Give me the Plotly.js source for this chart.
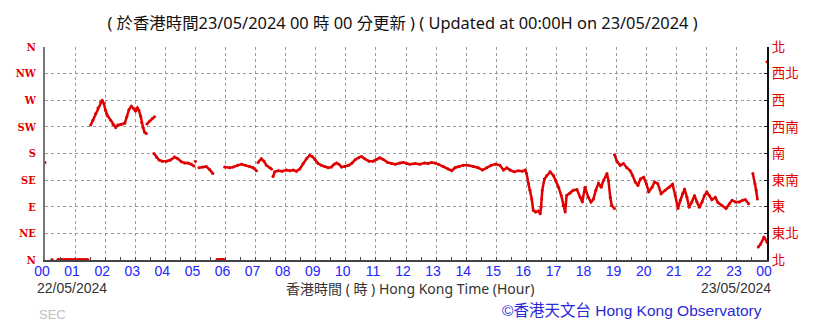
<!DOCTYPE html>
<html>
<head>
<meta charset="utf-8">
<script src="https://cdn.plot.ly/plotly-3.0.1.min.js"></script>
<style>
html,body{margin:0;padding:0;background:#fff;}
#chart{width:819px;height:323px;}
</style>
</head>
<body>
<div id="chart"></div>
<script>
// Wind direction (degrees) against Hong Kong time (hours since 00:00 22/05/2024); null = gap
const hours = [
  0.00, null,
  0.23, null,
  0.43, 0.55, 0.70, 0.85, 1.00, 1.15, 1.30, 1.42, null,
  1.52, 1.59, 1.68, 1.76, 1.85, 1.90, 1.96, 2.01, 2.09, 2.18, 2.26, 2.35, 2.42, 2.54, 2.65, 2.72, 2.79, 2.87, 2.95, 3.01, 3.07, 3.12, 3.18, 3.21, 3.26, 3.31, 3.37, null,
  3.39, 3.48, 3.57, 3.64, null,
  3.62, 3.70, 3.79, 3.90, 4.03, 4.17, 4.31, 4.42, 4.53, 4.64, 4.75, 4.86, 4.95, null,
  5.00, null,
  5.12, 5.25, 5.36, 5.47, 5.58, null,
  5.72, 5.80, 5.88, 5.94, null,
  5.97, 6.14, 6.25, 6.40, 6.53, 6.66, 6.81, 6.92, 7.03, null,
  7.08, 7.19, 7.28, 7.36, 7.47, 7.53, null,
  7.58, 7.64, 7.75, 7.88, 8.03, 8.14, 8.25, 8.36, 8.47, 8.58, 8.69, 8.80, 8.88, 8.97, 9.08, 9.19, 9.30, 9.41, 9.52, 9.61, 9.69, 9.77, 9.86, 9.97,
  10.10, 10.21, 10.32, 10.43, 10.52, 10.63, 10.77, 10.91, 11.02, 11.13, 11.24, 11.39, 11.52, 11.65, 11.80, 11.91, 12.02, 12.13, 12.30, 12.46, 12.61, 12.74, 12.85, 12.96,
  13.07, 13.24, 13.40, 13.52, 13.63, 13.76, 13.90, 14.07, 14.24, 14.40, 14.54, 14.68, 14.83, 14.98, 15.12, 15.24, 15.35, 15.46, 15.60, 15.73, 15.87, 15.96,
  16.01, 16.07, 16.12, 16.18, 16.23, 16.31, 16.40, 16.46, 16.49, 16.51, 16.53, 16.60, 16.68, 16.79, 16.90, 16.98, 17.07, 17.16, 17.23, 17.29,
  17.34, 17.45, 17.56, 17.68, 17.79, 17.86, 17.95, 18.06, 18.15, 18.23, 18.31, 18.40, 18.49, 18.56, 18.68, 18.73, 18.79, 18.84, 18.93, null,
  18.93, 19.01, 19.12, 19.23, 19.34, 19.45, 19.53, 19.62, 19.71, 19.79, 19.90, 19.99, 20.07, 20.18, 20.26, 20.37, 20.48, 20.61, 20.75, 20.86, 20.95,
  21.04, 21.12, 21.19, 21.26, 21.34, 21.41, 21.50, 21.59, 21.67, 21.75, 21.84, 21.92, 22.00, 22.08, 22.17, 22.28, 22.37, 22.50, 22.64, 22.75, 22.84, 22.95,
  23.08, 23.19, 23.28, 23.39, null,
  23.53, 23.60, 23.64, 23.68, null,
  23.71, 23.79, 23.90, 24.00, null,
  24.00
];
const directions = [
  165, null,
  1, null,
  1, 1, 1, 1, 1, 1, 1, 1, null,
  228, 236, 247, 257, 267, 270, 264, 253, 243, 236, 229, 224, 228, 229, 231, 242, 254, 260, 256, 252, 257, 253, 243, 233, 224, 216, 214, null,
  230, 235, 239, 242, null,
  180, 174, 169, 167, 167, 169, 174, 171, 166, 164, 164, 162, 159, null,
  167, null,
  156, 157, 158, 153, 146, null,
  1, 1, 1, 1, null,
  157, 156, 157, 160, 162, 160, 158, 156, 151, null,
  165, 171, 167, 160, 156, 154, null,
  141, 149, 151, 150, 152, 151, 152, 150, 154, 163, 171, 177, 175, 170, 163, 160, 158, 156, 157, 162, 164, 162, 157, 158,
  160, 164, 170, 173, 175, 171, 167, 167, 170, 173, 170, 165, 163, 162, 164, 165, 163, 162, 163, 162, 164, 163, 165, 164,
  162, 158, 154, 151, 156, 158, 160, 160, 158, 156, 152, 156, 160, 162, 160, 152, 156, 152, 149, 151, 150, 152,
  146, 129, 118, 103, 84, 81, 83, 78, 89, 103, 118, 137, 143, 149, 143, 134, 123, 109, 92, 81,
  109, 113, 118, 119, 106, 98, 123, 106, 98, 103, 118, 130, 123, 134, 146, 134, 106, 92, 87, null,
  178, 167, 160, 163, 156, 151, 143, 132, 126, 137, 140, 129, 115, 123, 132, 129, 112, 118, 123, 128, 109,
  87, 101, 112, 120, 106, 89, 98, 109, 98, 89, 98, 109, 115, 109, 102, 106, 97, 92, 87, 95, 101, 98,
  98, 101, 102, 95, null,
  146, 129, 118, 103, null,
  22, 27, 39, 30, null,
  335
];
const hourTicks = [0,1,2,3,4,5,6,7,8,9,10,11,12,13,14,15,16,17,18,19,20,21,22,23,24];
const hourLabels = ['00','01','02','03','04','05','06','07','08','09','10','11','12','13','14','15','16','17','18','19','20','21','22','23','00'];
const dirTicks = [0,45,90,135,180,225,270,315,360];
const dirLabelsEn = ['N','NE','E','SE','S','SW','W','NW','N'];
const dirLabelsZh = ['北','東北','東','東南','南','西南','西','西北','北'];
const titleText = '( 於香港時間23/05/2024 00 時 00 分更新 ) ( Updated at 00:00H on 23/05/2024 )';
const xTitleText = '香港時間 ( 時 ) Hong Kong Time (Hour)';
const startDate = '22/05/2024';
const endDate = '23/05/2024';
const creditText = '©香港天文台 Hong Kong Observatory';

const RED = '#e00000';
const SANS = 'Liberation Sans, Noto Sans CJK TC, sans-serif';
const NOTO = 'Noto Sans, Noto Sans CJK TC, sans-serif';

const traces = [
  {
    x: hours, y: directions, type: 'scatter', mode: 'lines+markers',
    line: {color: RED, width: 2.5}, marker: {color: RED, size: 3},
    connectgaps: false, cliponaxis: false, hoverinfo: 'skip', showlegend: false
  },
  {
    x: [null], y: [null], yaxis: 'y2', type: 'scatter', mode: 'markers',
    hoverinfo: 'skip', showlegend: false
  }
];

const layout = {
  width: 819, height: 323,
  margin: {l: 45, r: 52, t: 47, b: 63},
  paper_bgcolor: '#fff', plot_bgcolor: '#fff',
  showlegend: false,
  title: {
    text: titleText, xref: 'container', x: 0.4915, xanchor: 'center',
    yref: 'container', y: 1 - 23/323, yanchor: 'middle',
    font: {family: NOTO, size: 16.4, color: '#111'}
  },
  xaxis: {
    range: [0, 24], tickvals: hourTicks, ticktext: hourLabels,
    showgrid: true, gridcolor: '#999', griddash: 'dot', gridwidth: 1,
    zeroline: false, showline: true, linecolor: '#444', linewidth: 2,
    ticks: 'inside', ticklen: 3, tickcolor: '#444',
    minor: {dtick: 0.5, tick0: 0, ticks: 'inside', ticklen: 3, tickcolor: '#444', showgrid: false},
    ticklabelshift: -3, ticklabelstandoff: -3,
    tickfont: {family: SANS, size: 14, color: '#2424ff'},
    fixedrange: true
  },
  yaxis: {
    range: [0, 360], tickvals: dirTicks, ticktext: dirLabelsEn,
    showgrid: true, gridcolor: '#999', griddash: 'dot', gridwidth: 1,
    zeroline: false, showline: true, linecolor: '#777', linewidth: 2,
    ticks: '', ticklabelstandoff: 5,
    tickfont: {family: 'DejaVu Serif Condensed, Liberation Serif, serif', size: 11, color: RED, weight: 'bold'},
    fixedrange: true
  },
  yaxis2: {
    overlaying: 'y', side: 'right', range: [0, 360],
    tickvals: dirTicks, ticktext: dirLabelsZh,
    showgrid: false, zeroline: false, showline: true, linecolor: '#111', linewidth: 2,
    ticks: 'inside', ticklen: 3, tickcolor: '#111', ticklabelstandoff: 0,
    tickfont: {family: 'Noto Sans CJK TC, sans-serif', size: 13.5, color: RED},
    fixedrange: true
  },
  annotations: [
    {text: startDate, xref: 'paper', yref: 'paper', x: -0.0139, y: -0.132, xanchor: 'left', yanchor: 'middle',
     showarrow: false, font: {family: SANS, size: 14, color: '#333'}},
    {text: xTitleText, xref: 'paper', yref: 'paper', x: 0.505, y: -0.132, xanchor: 'center', yanchor: 'middle',
     showarrow: false, font: {family: NOTO, size: 14, color: '#333'}},
    {text: endDate, xref: 'paper', yref: 'paper', x: 1.0083, y: -0.132, xanchor: 'right', yanchor: 'middle',
     showarrow: false, font: {family: SANS, size: 14, color: '#333'}},
    {text: creditText, xref: 'paper', yref: 'paper', x: 0.813, y: -0.239, xanchor: 'center', yanchor: 'middle',
     showarrow: false, font: {family: SANS, size: 15.5, color: '#2a2ad8'}},
    {text: 'SEC', xref: 'paper', yref: 'paper', x: -0.011, y: -0.258, xanchor: 'left', yanchor: 'middle',
     showarrow: false, font: {family: SANS, size: 13, color: '#c0c0c0'}}
  ]
};

Plotly.newPlot('chart', traces, layout, {staticPlot: true, displayModeBar: false});
</script>
</body>
</html>
